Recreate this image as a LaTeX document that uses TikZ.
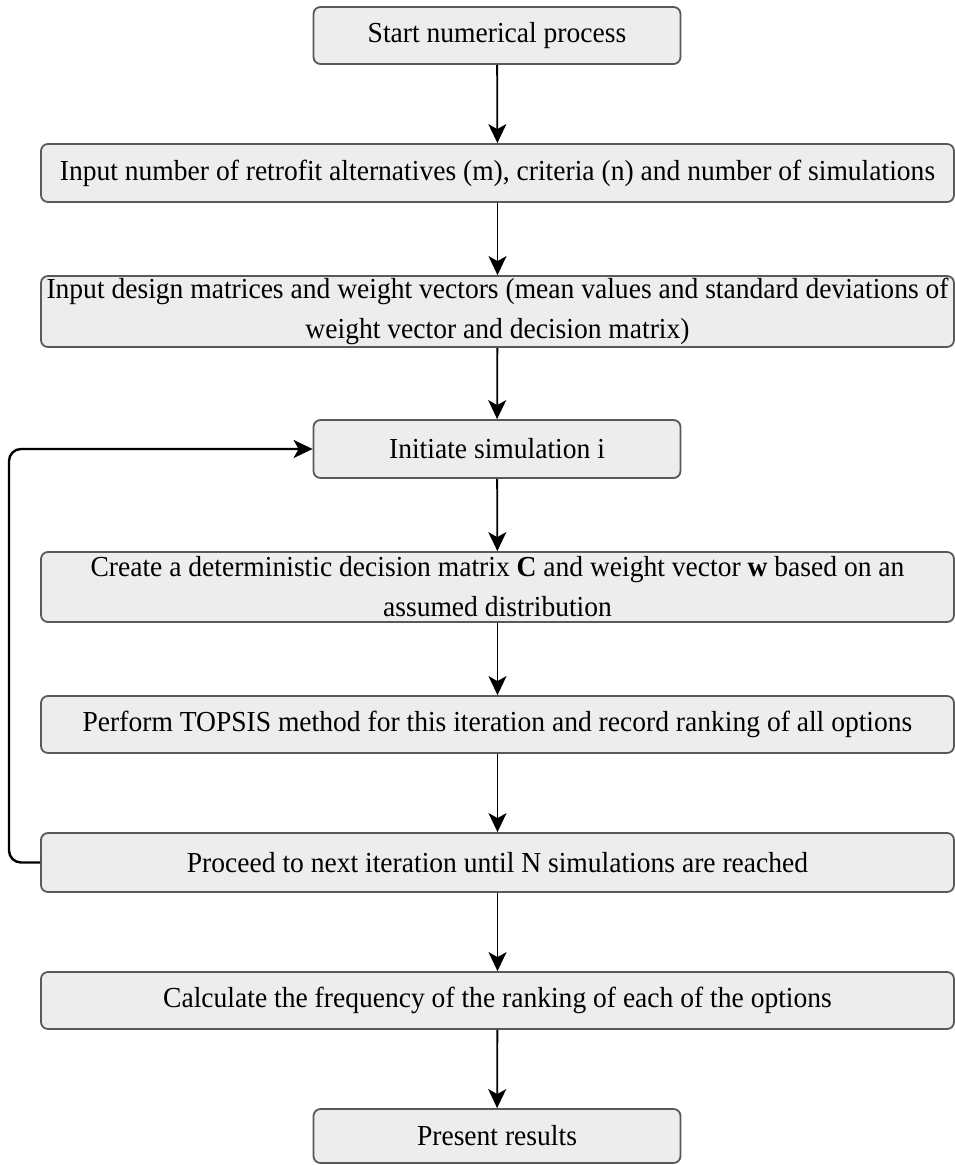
\documentclass[tikz,border=0pt]{standalone}
\usepackage{fontspec}
\setmainfont[FakeStretch=0.95]{Liberation Serif}
\usetikzlibrary{arrows.meta}

\begin{document}
\begin{tikzpicture}[x=1pt,y=-1pt,
    >={Stealth[length=19pt,width=18pt,inset=5pt]},
    stepbox/.style={draw=black!65,line width=1.8pt,fill=black!7,rounded corners=7pt,
      align=center,inner sep=0pt,font=\fontsize{29}{40}\selectfont},
    narrowbox/.style={stepbox,minimum width=367pt},
    widebox/.style={stepbox,minimum width=913pt},
    flow/.style={->,line width=1.8pt}]
    % Fix the page to the picture size
    \useasboundingbox (0,0) rectangle (955,1165);
    % Draw the boxes
    \node[narrowbox,minimum height=57pt] (start) at (497,35.5) {Start numerical process};
    \node[widebox,minimum height=58pt] (nums) at (497.5,173) {Input number of retrofit alternatives (m), criteria (n) and number of simulations};
    \node[widebox,minimum height=71pt] (design) at (497.5,311.5) {Input design matrices and weight vectors (mean values and standard deviations of\\ weight vector and decision matrix)};
    \node[narrowbox,minimum height=58pt] (init) at (497,449) {Initiate simulation i};
    \node[widebox,minimum height=70pt] (create) at (497.5,587) {Create a deterministic decision matrix \textbf{C} and weight vector \textbf{w} based on an\\ assumed distribution};
    \node[widebox,minimum height=57pt] (topsis) at (497.5,724.5) {Perform TOPSIS method for this iteration and record ranking of all options};
    \node[widebox,minimum height=59pt] (next) at (497.5,862.5) {Proceed to next iteration until N simulations are reached};
    \node[widebox,minimum height=57pt] (freq) at (497.5,1000.5) {Calculate the frequency of the ranking of each of the options};
    \node[narrowbox,minimum height=54pt] (present) at (497,1136) {Present results};
    % Draw the arrows down the chain
    \foreach \a/\b in {start/nums, nums/design, design/init, init/create, create/topsis, topsis/next, next/freq, freq/present}{
      \draw[flow] (\a) -- (\b);
    }
    % Draw the loop back to the start of a simulation
    \coordinate (loop) at (9,449);
    \draw[flow,line width=2.4pt,rounded corners=12pt] (next.west) -| (loop) -- (init.west);
\end{tikzpicture}
\end{document}
